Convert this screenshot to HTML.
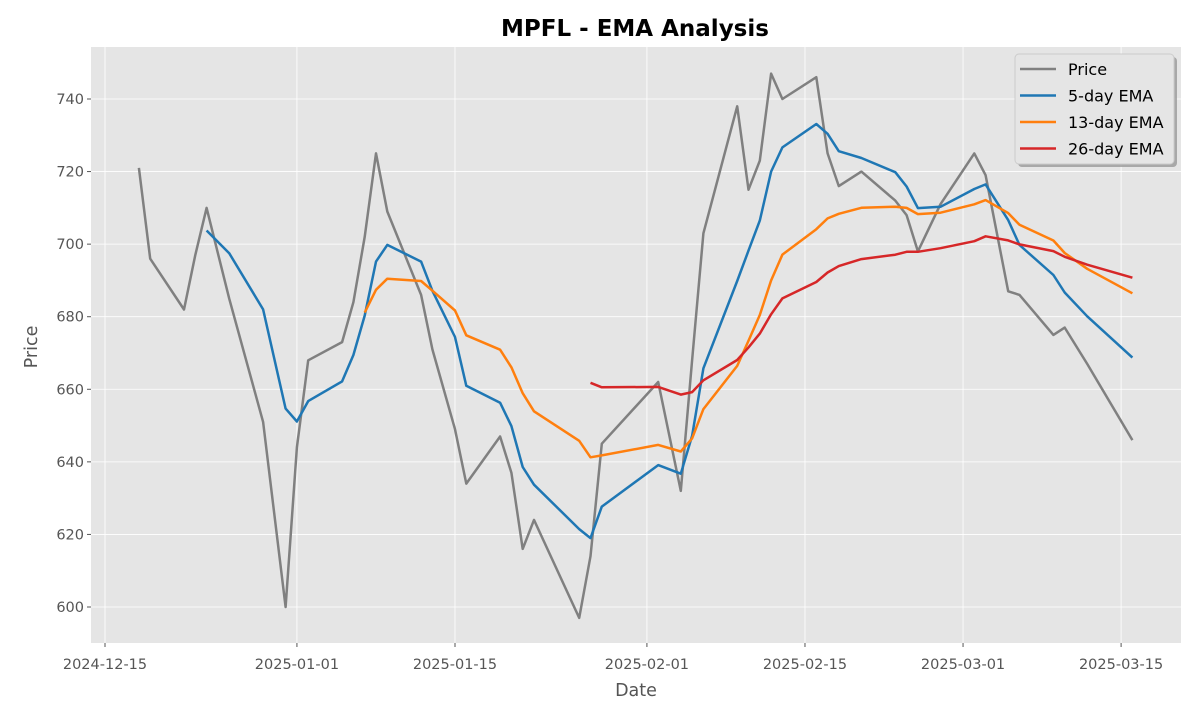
<!DOCTYPE html>
<html><head><meta charset="utf-8"><style>
body{margin:0;background:#fff;font-family:"Liberation Sans","DejaVu Sans",sans-serif}
svg text{font-family:"DejaVu Sans","Liberation Sans",sans-serif}
</style></head><body>
<svg id="c" width="1200" height="720" xmlns="http://www.w3.org/2000/svg"></svg>
<script>
const dayOffsets=[3,4,7,8,9,11,14,16,17,18,21,22,23,24,25,28,29,31,32,35,36,37,38,42,43,44,49,51,52,53,56,57,58,59,60,63,64,65,67,70,71,72,74,77,78,80,81,84,85,87,91];
const prices=[721,696,682,697,710,685,651,600,644,668,673,684,702,725,709,686,671,649,634,647,637,616,624,597,614,645,662,632,668,703,738,715,723,747,740,746,725,716,720,712,708,698,711,725,719,687,686,675,677,667,646];
const spans=[5,13,26];
const startIdx=[4,12,24];
const seriesNames=["5-day EMA","13-day EMA","26-day EMA"];
const seriesColors=["#1f77b4","#ff7f0e","#d62728"];
const yTicks=[600,620,640,660,680,700,720,740];
const xTickDays=[0,17,31,48,62,76,90];
const xTickLabels=["2024-12-15","2025-01-01","2025-01-15","2025-02-01","2025-02-15","2025-03-01","2025-03-15"];

const svg=document.getElementById('c');const NS='http://www.w3.org/2000/svg';
function mk(t,a,p){const e=document.createElementNS(NS,t);for(const k in a)e.setAttribute(k,a[k]);(p||svg).appendChild(e);return e;}
const L=91,R=1181,T=47,B=643;
const X=d=>105+d*11.29;
const Y=v=>607-(v-600)*3.6286;
const bg=mk('rect',{x:L,y:T,width:R-L,height:B-T,fill:'#e5e5e5'});


yTicks.forEach(v=>{
 const g=mk('line',{x1:L,x2:R,y1:Y(v),y2:Y(v),stroke:'#fff','stroke-width':0.8});
 
 
 mk('line',{x1:L-4,x2:L,y1:Y(v),y2:Y(v),stroke:'#555'});
 const t=mk('text',{x:L-7,y:Y(v)+5,'text-anchor':'end','font-size':14.5,fill:'#555'});t.textContent=v;
 
 
});
xTickDays.forEach((d,i)=>{
 const g=mk('line',{x1:X(d),x2:X(d),y1:T,y2:B,stroke:'#fff','stroke-width':0.8});
 
 
 mk('line',{x1:X(d),x2:X(d),y1:B,y2:B+4,stroke:'#555'});
 const t=mk('text',{x:X(d),y:B+26,'text-anchor':'middle','font-size':14.5,fill:'#555'});t.textContent=xTickLabels[i];
 
 
});
function line(vals,start,color,name){
 let d='';for(let i=start;i<vals.length;i++)d+=(i==start?'M':'L')+X(dayOffsets[i]).toFixed(1)+','+Y(vals[i]).toFixed(1);
 const p=mk('path',{d:d,fill:'none',stroke:color,'stroke-width':2.5,'stroke-linejoin':'round'});
 
 
}
line(prices,0,'#808080','price-line');
spans.forEach((s,k)=>{
 const a=2/(s+1);const e=[];let v=prices[0];
 prices.forEach((p,i)=>{v=i?a*p+(1-a)*v:p;e.push(v);});
 line(e,Math.min(startIdx[k],prices.length-1),seriesColors[k],'ema-'+s+'-line');
});
const title=mk('text',{x:635,y:36,'text-anchor':'middle','font-size':23,'font-weight':'bold',fill:'#000'});title.textContent='MPFL - EMA Analysis';


const xl=mk('text',{x:636,y:696,'text-anchor':'middle','font-size':17.5,fill:'#555'});xl.textContent='Date';


const yl=mk('text',{x:37,y:347,'text-anchor':'middle','font-size':17.5,fill:'#555',transform:'rotate(-90 37 347)'});yl.textContent='Price';


const lg=mk('g',{});


mk('rect',{x:1018,y:57,width:159,height:110,rx:4,fill:'#999',opacity:0.8},lg);
mk('rect',{x:1015,y:54,width:159,height:110,rx:4,fill:'#e5e5e5',stroke:'#ccc'},lg);
const names=['Price'].concat(seriesNames),cols=['#808080'].concat(seriesColors);
names.forEach((n,i)=>{
 const yy=69+i*26.5;
 mk('line',{x1:1020,x2:1056,y1:yy,y2:yy,stroke:cols[i],'stroke-width':2.5},lg);
 const t=mk('text',{x:1068,y:yy+6,'font-size':16,fill:'#000'},lg);t.textContent=n;
 
 
});
</script>
</body></html>
